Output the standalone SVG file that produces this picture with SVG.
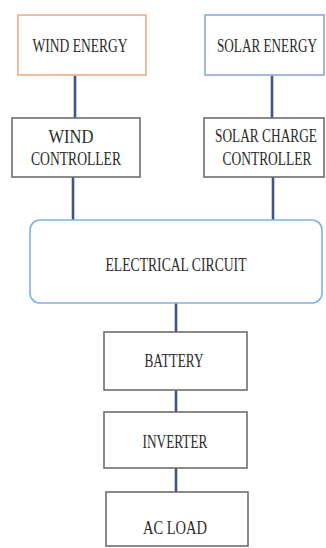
<svg xmlns="http://www.w3.org/2000/svg" width="326" height="548" viewBox="0 0 326 548">
<style>
.box{fill:#fff;stroke:#6e6e6e;stroke-width:1.6}
.wind{fill:#fff;stroke:#f2b48f;stroke-width:1.8}
.solar{fill:#fff;stroke:#98b2e0;stroke-width:1.8}
.circ{fill:#fff;stroke:#7fb2e8;stroke-width:1.6}
.lbl{font-family:"Liberation Serif","Times New Roman",serif;font-size:13px;fill:#2b2b2b;text-anchor:middle}
.conn line{stroke:#3f5483;stroke-width:2.6}
</style>
<rect width="326" height="548" fill="#fff"/>
<g class="conn" id="connectors">
<line x1="75" y1="75" x2="75" y2="118"/>
<line x1="272" y1="75" x2="272" y2="118"/>
<line x1="73" y1="177" x2="73" y2="220"/>
<line x1="273" y1="177" x2="273" y2="220"/>
<line x1="176" y1="303" x2="176" y2="332"/>
<line x1="176" y1="390" x2="176" y2="412"/>
<line x1="176" y1="468" x2="176" y2="492"/>
</g>
<g id="wind-energy">
<rect class="wind" x="18" y="15" width="128" height="60"/>
<text class="lbl" transform="translate(80,52) scale(1,1.38)" textLength="95" lengthAdjust="spacingAndGlyphs">WIND ENERGY</text>
</g>
<g id="solar-energy">
<rect class="solar" x="205" y="15" width="119" height="60"/>
<text class="lbl" transform="translate(267,52) scale(1,1.38)" textLength="100" lengthAdjust="spacingAndGlyphs">SOLAR ENERGY</text>
</g>
<g id="wind-controller">
<rect class="box" x="12" y="118" width="128" height="59"/>
<text class="lbl" transform="translate(71,143) scale(1,1.38)" textLength="45" lengthAdjust="spacingAndGlyphs">WIND</text>
<text class="lbl" transform="translate(76,165) scale(1,1.38)" textLength="90" lengthAdjust="spacingAndGlyphs">CONTROLLER</text>
</g>
<g id="solar-charge-controller">
<rect class="box" x="204" y="118" width="120" height="59"/>
<text class="lbl" transform="translate(266,142) scale(1,1.38)" textLength="102" lengthAdjust="spacingAndGlyphs">SOLAR CHARGE</text>
<text class="lbl" transform="translate(267,165) scale(1,1.38)" textLength="89" lengthAdjust="spacingAndGlyphs">CONTROLLER</text>
</g>
<g id="electrical-circuit">
<rect class="circ" x="30" y="220" width="292" height="83" rx="10" ry="10"/>
<text class="lbl" transform="translate(176,271) scale(1,1.38)" textLength="141" lengthAdjust="spacingAndGlyphs">ELECTRICAL CIRCUIT</text>
</g>
<g id="battery">
<rect class="box" x="104" y="332" width="143" height="58"/>
<text class="lbl" transform="translate(174,367) scale(1,1.38)" textLength="59" lengthAdjust="spacingAndGlyphs">BATTERY</text>
</g>
<g id="inverter">
<rect class="box" x="104" y="412" width="143" height="56"/>
<text class="lbl" transform="translate(175,448) scale(1,1.38)" textLength="65" lengthAdjust="spacingAndGlyphs">INVERTER</text>
</g>
<g id="ac-load">
<rect class="box" x="106" y="492" width="142" height="54"/>
<text class="lbl" transform="translate(175,534) scale(1,1.38)" textLength="64" lengthAdjust="spacingAndGlyphs">AC LOAD</text>
</g>
</svg>
